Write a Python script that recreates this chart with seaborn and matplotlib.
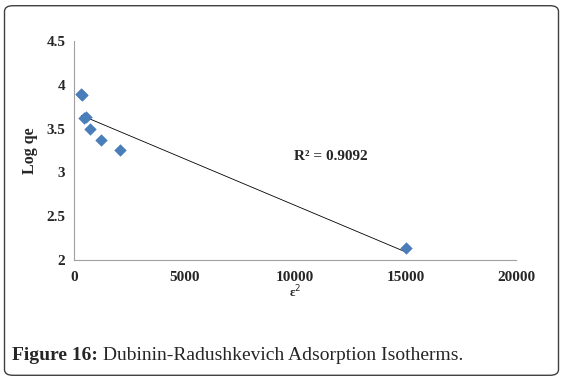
import numpy as np
import pandas as pd
import matplotlib
matplotlib.use("Agg")
import matplotlib.pyplot as plt
from matplotlib.patches import FancyBboxPatch
import seaborn as sns

# values
eps_sq = [340, 360, 470, 570, 750, 1250, 2100, 15000]
log_qe = [3.90, 3.88, 3.62, 3.63, 3.50, 3.375, 3.25, 2.13]
x_ticks = [0, 5000, 10000, 15000, 20000]
y_ticks = [2, 2.5, 3, 3.5, 4, 4.5]
r2_text = "R² = 0.9092"
caption_bold = "Figure 16:"
caption_rest = " Dubinin-Radushkevich Adsorption Isotherms."

df = pd.DataFrame({"eps_sq": eps_sq, "log_qe": log_qe})

sns.set_style("white")
plt.rcParams["font.family"] = ["Liberation Serif", "DejaVu Serif"]

fig = plt.figure(figsize=(5.63, 3.81), dpi=100)
ax = fig.add_axes([0.131, 0.318, 0.786, 0.574])

sns.regplot(data=df, x="eps_sq", y="log_qe", ax=ax, ci=None, marker="D",
            scatter_kws={"s": 40, "color": "#4A7EBB", "linewidths": 0, "alpha": 1, "zorder": 3},
            line_kws={"color": "black", "lw": 0.6, "zorder": 2})

ax.set_xlim(0, 20000)
ax.set_ylim(2, 4.5)
ax.set_xticks(x_ticks)
ax.set_yticks(y_ticks)
ax.set_xticklabels([str(v) for v in x_ticks], fontweight="bold", fontsize=11)
ax.set_yticklabels([f"{v:g}" for v in y_ticks], fontweight="bold", fontsize=11)
ax.tick_params(axis="both", direction="out", length=4, width=0.8, color="#A0A0A0", pad=2)
ax.tick_params(axis="x", pad=4)
for side in ["top", "right"]:
    ax.spines[side].set_visible(False)
for side in ["left", "bottom"]:
    ax.spines[side].set_color("#A0A0A0")
    ax.spines[side].set_linewidth(0.8)

ax.set_xlabel("ε$^2$", fontweight="bold", fontsize=9, labelpad=0)
ax.set_ylabel("Log qe", fontweight="bold", fontsize=11.5, labelpad=6)
ax.text(0.497, 0.455, r2_text, transform=ax.transAxes, fontweight="bold", fontsize=11)

# rounded frame around the whole figure
frame = FancyBboxPatch((0.008, 0.015), 0.984, 0.97, boxstyle="round,pad=0,rounding_size=0.015",
                       transform=fig.transFigure, fill=False, edgecolor="#404040", lw=1.0)
fig.patches.append(frame)

t1 = fig.text(0.022, 1 - 360 / 381, caption_bold, fontsize=14, fontweight="bold", va="baseline")
fig.canvas.draw()
bb = t1.get_window_extent()
fig.text(bb.x1 / fig.bbox.width, 1 - 360 / 381, caption_rest, fontsize=14, va="baseline")

fig.savefig("out.png", dpi=100)
